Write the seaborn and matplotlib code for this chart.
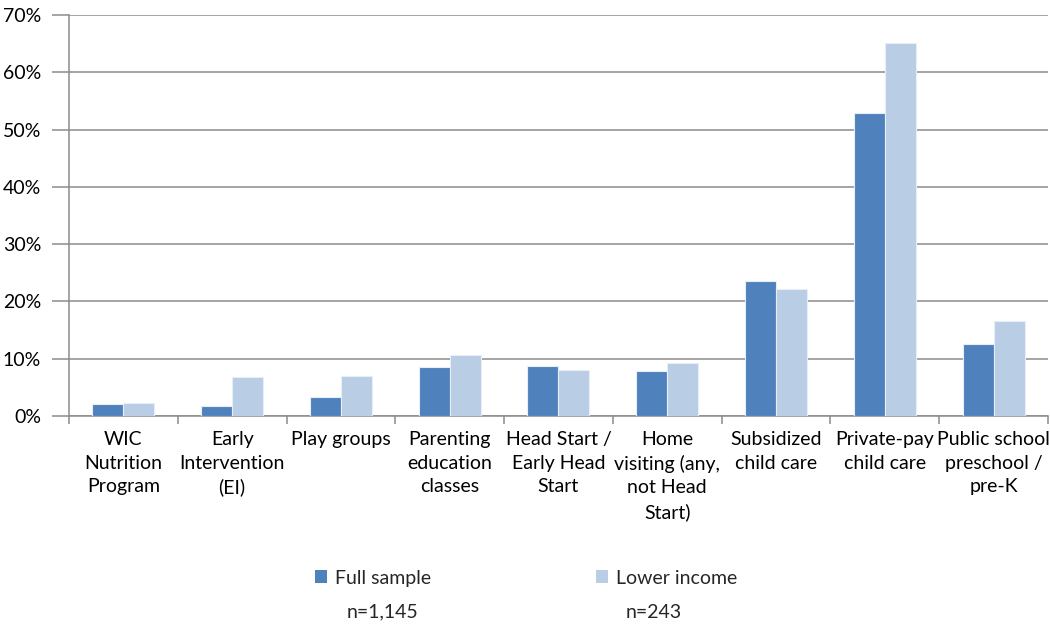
import matplotlib
matplotlib.use("Agg")
import matplotlib.pyplot as plt
from matplotlib.patches import Patch
from matplotlib.ticker import FixedLocator, PercentFormatter
import pandas as pd
import seaborn as sns

# Share of families using each service
categories = [
    "WIC\nNutrition\nProgram",
    "Early\nIntervention\n(EI)",
    "Play groups",
    "Parenting\neducation\nclasses",
    "Head Start /\nEarly Head\nStart",
    "Home\nvisiting (any,\nnot Head\nStart)",
    "Subsidized\nchild care",
    "Private-pay\nchild care",
    "Public school\npreschool /\npre-K",
]
full_sample = [2.1, 1.7, 3.4, 8.5, 8.7, 7.8, 23.6, 52.9, 12.6]
lower_income = [2.3, 6.8, 7.0, 10.6, 8.1, 9.2, 22.1, 65.2, 16.6]
series_names = ["Full sample", "Lower income"]
sample_sizes = ["n=1,145", "n=243"]
y_ticks = [0, 10, 20, 30, 40, 50, 60, 70]

colors = ["#4F81BD", "#B9CDE5"]
grid_color = "#8C8C8C"
fs = 14

df = pd.DataFrame({
    "category": categories * 2,
    "value": full_sample + lower_income,
    "series": [series_names[0]] * len(categories) + [series_names[1]] * len(categories),
})

sns.set_theme(style="white")
plt.rcParams["font.family"] = ["Lato", "DejaVu Sans"]

fig = plt.figure(figsize=(10.5, 6.29), dpi=100)
ax = fig.add_axes([0.0657, 0.3386, 0.9323, 0.6374])

sns.barplot(
    data=df, x="category", y="value", hue="series",
    palette=colors, width=0.57, saturation=1, ax=ax,
    edgecolor="#E8EEF7", linewidth=0.8, legend=False, zorder=3,
)

ax.set_ylim(0, 70)
ax.set_xlim(-0.5, len(categories) - 0.5)
ax.yaxis.set_major_locator(FixedLocator(y_ticks))
ax.yaxis.set_major_formatter(PercentFormatter(decimals=0))
ax.grid(axis="y", color=grid_color, linewidth=1.1, zorder=0)
ax.set_axisbelow(True)
ax.set_xlabel("")
ax.set_ylabel("")

for side in ["top", "right"]:
    ax.spines[side].set_visible(False)
for side in ["left", "bottom"]:
    ax.spines[side].set_color(grid_color)
    ax.spines[side].set_linewidth(1.1)

# tick marks sit on category boundaries, labels at category centres
ax.xaxis.set_minor_locator(FixedLocator([i - 0.5 for i in range(len(categories) + 1)]))
ax.tick_params(axis="x", which="major", length=0, pad=11, labelsize=fs, colors="black")
ax.tick_params(axis="x", which="minor", bottom=True, length=6, width=1.1, color=grid_color)
ax.tick_params(axis="y", which="major", left=True, length=12, width=1.1, color=grid_color,
               labelsize=fs, labelcolor="black", pad=8)
for lab in ax.get_xticklabels():
    lab.set_linespacing(1.45)
    lab.set_verticalalignment("top")

handles = [Patch(facecolor=c, edgecolor="none") for c in colors]
fig.legend(
    handles, series_names, loc="center left", bbox_to_anchor=(0.300, 0.081),
    ncol=2, frameon=False, fontsize=fs, handlelength=0.62, handleheight=0.62,
    handletextpad=0.4, columnspacing=8.5, borderaxespad=0, borderpad=0,
)

fig.text(383 / 1050, 1 - 612 / 629, sample_sizes[0], ha="center", va="center", fontsize=fs)
fig.text(654 / 1050, 1 - 612 / 629, sample_sizes[1], ha="center", va="center", fontsize=fs)

fig.savefig("out.png", dpi=100, facecolor="white")
